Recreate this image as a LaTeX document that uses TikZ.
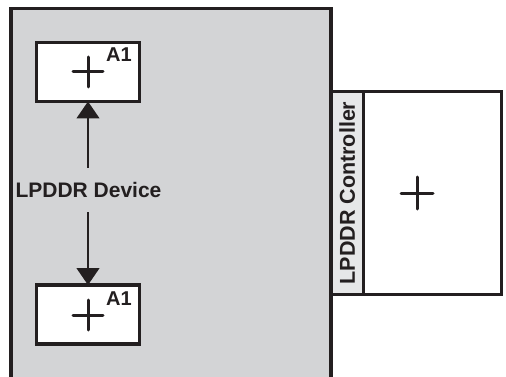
\documentclass[tikz,border=0pt]{standalone}
\usepackage{fontspec}
\setmainfont{Liberation Sans}
\usetikzlibrary{arrows.meta}
\definecolor{ink}{HTML}{231F20}
\definecolor{devgray}{HTML}{D3D4D6}
\definecolor{ctlgray}{HTML}{E6E7E8}
\begin{document}
\begin{tikzpicture}[x=1pt,y=-1pt,
  frame/.style={draw=ink,line width=3.2pt},
  chip/.style={frame,fill=white,inner sep=0pt,outer sep=0pt},
  lbl/.style={text=ink,font=\bfseries\fontsize{21}{23}\selectfont,inner sep=0pt},
  pin/.style={text=ink,font=\bfseries\fontsize{20}{21}\selectfont,inner sep=0pt},
  link/.style={draw=ink,line width=1.4pt},
  tip/.style={-{Triangle[width=23pt,length=17pt]}}]
\useasboundingbox (0,0) rectangle (506,377);
\clip (0,0) rectangle (506,377);
% device body
\path[frame,fill=devgray] (11,8.5) -- (331,8.5) -- (331,390) -- (11,390) -- cycle;
% controller
\node[chip,fill=ctlgray,minimum width=32.5pt,minimum height=203pt] (strip) at (347.25,193) {};
\node[chip,minimum width=138pt,minimum height=203pt] (ctl) at (432.5,193) {};
\node[lbl,rotate=90,font=\bfseries\fontsize{21.5}{23}\selectfont] (ctltxt) at (strip.center) {LPDDR Controller};
\draw[draw=ink,line width=3pt,line cap=round] (417,193) ++(-16,0) -- ++(32,0) (417,193) ++(0,-16) -- ++(0,32);
% top chip
\node[chip,minimum width=103pt,minimum height=59pt] (top) at (88,72) {};
\draw[draw=ink,line width=3pt,line cap=round] (88,72) ++(-15,0) -- ++(30,0) (88,72) ++(0,-15) -- ++(0,30);
\node[pin] (a1top) at (119,55) {A1};
% bottom chip
\node[chip,minimum width=103pt,minimum height=59pt] (bot) at (88,314.5) {};
\draw[draw=ink,line width=3pt,line cap=round] (88,315) ++(-15,0) -- ++(30,0) (88,315) ++(0,-15) -- ++(0,30);
\node[pin] (a1bot) at (119,299) {A1};
% label and arrows
\node[lbl,minimum height=44pt] (dev) at (88.5,190) {LPDDR Device};
\draw[link,tip] (dev.north -| top.south) -- (top.south);
\draw[link,tip] (dev.south -| bot.north) -- (bot.north);
\end{tikzpicture}
\end{document}
